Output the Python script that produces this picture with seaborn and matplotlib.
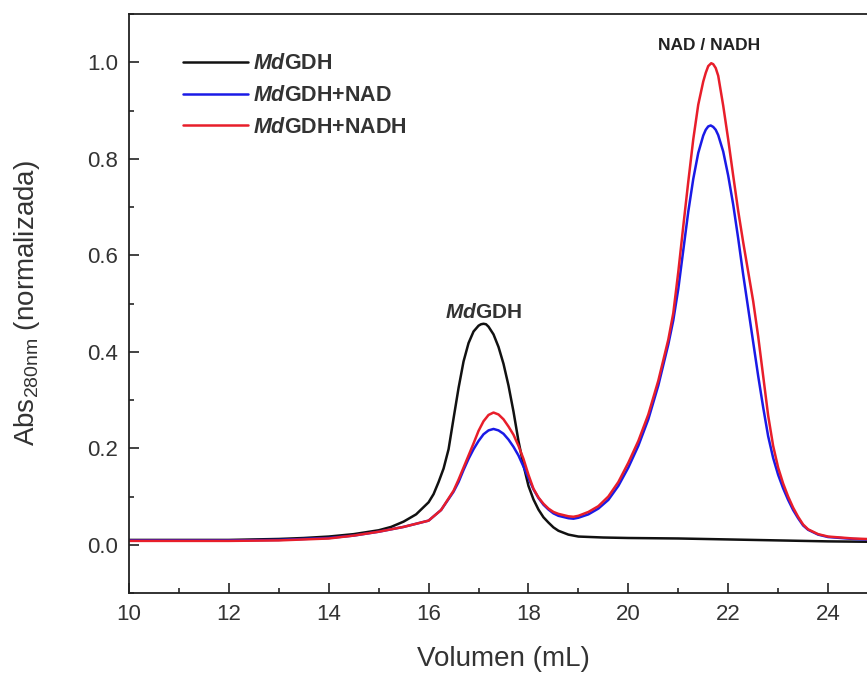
import numpy as np
import pandas as pd
import matplotlib
matplotlib.use("Agg")
import matplotlib.pyplot as plt
import seaborn as sns

# ---------------- data ----------------
gdh_x = [10.0, 10.5, 11.0, 11.5, 12.0, 12.5, 13.0, 13.5, 14.0, 14.5, 15.0, 15.25, 15.5, 15.75,
         16.0, 16.1, 16.2, 16.3, 16.4, 16.5, 16.6, 16.7, 16.8, 16.9, 17.0, 17.05, 17.1, 17.15, 17.2, 17.3,
         17.4, 17.5, 17.6, 17.7, 17.8, 17.9, 18.0, 18.1, 18.2, 18.3, 18.4, 18.5, 18.6, 18.8,
         19.0, 19.5, 20.0, 21.0, 22.0, 23.0, 24.0, 25.0]
gdh_y = [0.010, 0.010, 0.010, 0.010, 0.010, 0.011, 0.012, 0.014, 0.017, 0.022, 0.030, 0.037, 0.048, 0.063,
         0.088, 0.105, 0.130, 0.158, 0.198, 0.262, 0.325, 0.380, 0.418, 0.442, 0.454, 0.457, 0.458, 0.457, 0.452, 0.436,
         0.410, 0.375, 0.330, 0.276, 0.215, 0.165, 0.122, 0.094, 0.073, 0.057, 0.046, 0.036, 0.029, 0.021,
         0.017, 0.015, 0.014, 0.013, 0.011, 0.009, 0.007, 0.006]

nad_x = [10.0, 11.0, 12.0, 13.0, 14.0, 14.5, 15.0, 15.5, 16.0, 16.25, 16.5, 16.6, 16.7, 16.8, 16.9,
         17.0, 17.1, 17.2, 17.3, 17.4, 17.5, 17.6, 17.7, 17.8, 17.9, 18.0, 18.1, 18.2, 18.3, 18.4,
         18.5, 18.6, 18.8, 18.9, 19.0, 19.2, 19.4, 19.6, 19.8, 20.0, 20.2, 20.4, 20.6, 20.8, 20.9,
         21.0, 21.1, 21.2, 21.3, 21.4, 21.5, 21.55, 21.6, 21.65, 21.7, 21.75, 21.8, 21.9, 22.0, 22.1, 22.2, 22.3,
         22.4, 22.5, 22.6, 22.7, 22.8, 22.9, 23.0, 23.1, 23.2, 23.3, 23.4, 23.5, 23.6, 23.8, 24.0,
         24.5, 25.0]
nad_y = [0.009, 0.009, 0.009, 0.010, 0.014, 0.019, 0.027, 0.037, 0.050, 0.072, 0.110, 0.130, 0.155, 0.178, 0.198,
         0.215, 0.229, 0.237, 0.240, 0.237, 0.230, 0.218, 0.203, 0.185, 0.162, 0.138, 0.115, 0.097, 0.083, 0.073,
         0.065, 0.060, 0.055, 0.054, 0.056, 0.063, 0.075, 0.093, 0.122, 0.160, 0.205, 0.260, 0.330, 0.415, 0.465,
         0.530, 0.610, 0.690, 0.758, 0.812, 0.848, 0.860, 0.867, 0.869, 0.866, 0.860, 0.849, 0.815, 0.765, 0.705, 0.635, 0.560,
         0.490, 0.420, 0.350, 0.285, 0.225, 0.180, 0.145, 0.117, 0.093, 0.072, 0.055, 0.040, 0.031, 0.021, 0.016,
         0.012, 0.010]

nadh_x = [10.0, 11.0, 12.0, 13.0, 14.0, 14.5, 15.0, 15.5, 16.0, 16.25, 16.5, 16.6, 16.7, 16.8, 16.9,
          17.0, 17.1, 17.2, 17.3, 17.4, 17.5, 17.6, 17.7, 17.8, 17.9, 18.0, 18.1, 18.2, 18.3, 18.4,
          18.5, 18.6, 18.8, 18.9, 19.0, 19.2, 19.4, 19.6, 19.8, 20.0, 20.2, 20.4, 20.6, 20.8, 20.9,
          21.0, 21.1, 21.2, 21.3, 21.4, 21.5, 21.55, 21.6, 21.66, 21.7, 21.75, 21.8, 21.9, 22.0, 22.1, 22.2, 22.3,
          22.4, 22.5, 22.6, 22.7, 22.8, 22.9, 23.0, 23.1, 23.2, 23.3, 23.4, 23.5, 23.6, 23.8, 24.0,
          24.5, 25.0]
nadh_y = [0.008, 0.008, 0.008, 0.009, 0.013, 0.019, 0.027, 0.037, 0.050, 0.072, 0.112, 0.135, 0.160, 0.185, 0.210,
          0.236, 0.256, 0.269, 0.274, 0.270, 0.260, 0.245, 0.228, 0.205, 0.178, 0.145, 0.116, 0.098, 0.085, 0.075,
          0.068, 0.064, 0.059, 0.058, 0.060, 0.068, 0.080, 0.100, 0.130, 0.170, 0.215, 0.270, 0.340, 0.425, 0.480,
          0.565, 0.660, 0.752, 0.840, 0.912, 0.960, 0.978, 0.992, 0.998, 0.996, 0.988, 0.972, 0.910, 0.840, 0.765, 0.692, 0.627,
          0.566, 0.505, 0.432, 0.350, 0.268, 0.205, 0.160, 0.127, 0.100, 0.077, 0.058, 0.042, 0.032, 0.022, 0.017,
          0.013, 0.011]

labels = [r"$\it{Md}$GDH", r"$\it{Md}$GDH+NAD", r"$\it{Md}$GDH+NADH"]
colors = ["#111111", "#1a1ae6", "#e81e2a"]
x_ticks = [10, 12, 14, 16, 18, 20, 22, 24]
y_ticks = [0.0, 0.2, 0.4, 0.6, 0.8, 1.0]

df = pd.concat([
    pd.DataFrame({"Volumen": gdh_x, "Abs": gdh_y, "Muestra": labels[0]}),
    pd.DataFrame({"Volumen": nad_x, "Abs": nad_y, "Muestra": labels[1]}),
    pd.DataFrame({"Volumen": nadh_x, "Abs": nadh_y, "Muestra": labels[2]}),
], ignore_index=True)

# ---------------- style ----------------
sns.set_theme(style="ticks")
plt.rcParams["font.family"] = ["Liberation Sans", "DejaVu Sans"]
plt.rcParams["mathtext.fontset"] = "custom"
plt.rcParams["mathtext.rm"] = "Liberation Sans"
plt.rcParams["mathtext.it"] = "Liberation Sans:italic:bold"
plt.rcParams["mathtext.bf"] = "Liberation Sans:bold"

fig = plt.figure(figsize=(8.67, 6.73), dpi=100)
ax = fig.add_axes([129 / 867, 1 - 593 / 673, 749 / 867, 579 / 673])

sns.lineplot(data=df, x="Volumen", y="Abs", hue="Muestra", hue_order=labels,
             palette=dict(zip(labels, colors)), sort=False, estimator=None,
             linewidth=1.8, ax=ax)

ax.set_xlim(10, 25)
ax.set_ylim(-0.1, 1.1)
ax.set_xticks(x_ticks)
ax.set_yticks(y_ticks)
ax.set_xticklabels([str(t) for t in x_ticks])
ax.set_yticklabels([f"{t:.1f}" for t in y_ticks])
ax.xaxis.set_minor_locator(matplotlib.ticker.MultipleLocator(1))
ax.yaxis.set_minor_locator(matplotlib.ticker.MultipleLocator(0.1))
ax.tick_params(which="major", direction="in", length=7, width=1.2, labelsize=16,
               colors="#222222", pad=8)
ax.tick_params(which="minor", direction="in", length=3.5, width=1.2)
ax.tick_params(axis="both", labelcolor="#333333")
for s in ax.spines.values():
    s.set_linewidth(1.3)
    s.set_color("#222222")

ax.set_xlabel("Volumen (mL)", fontsize=20, color="#333333", labelpad=15)
ax.set_ylabel(r"Abs$_{\mathrm{280nm}}$ (normalizada)", fontsize=20, color="#333333", labelpad=32)

leg = ax.legend(loc="upper left", bbox_to_anchor=(0.072, 0.932), frameon=False,
                fontsize=15.5, handlelength=3.0, handletextpad=0.25, labelspacing=0.5,
                borderaxespad=0, borderpad=0)
for t in leg.get_texts():
    t.set_fontweight("bold")
    t.set_color("#333333")
for h in leg.get_lines():
    h.set_linewidth(1.8)

ax.text(17.1, 0.462, r"$\it{Md}$GDH", ha="center", va="bottom", fontsize=15,
        fontweight="bold", color="#333333")
ax.text(21.62, 1.02, "NAD / NADH", ha="center", va="bottom", fontsize=12.5,
        fontweight="bold", color="#222222")

fig.savefig("out.png", dpi=100)
